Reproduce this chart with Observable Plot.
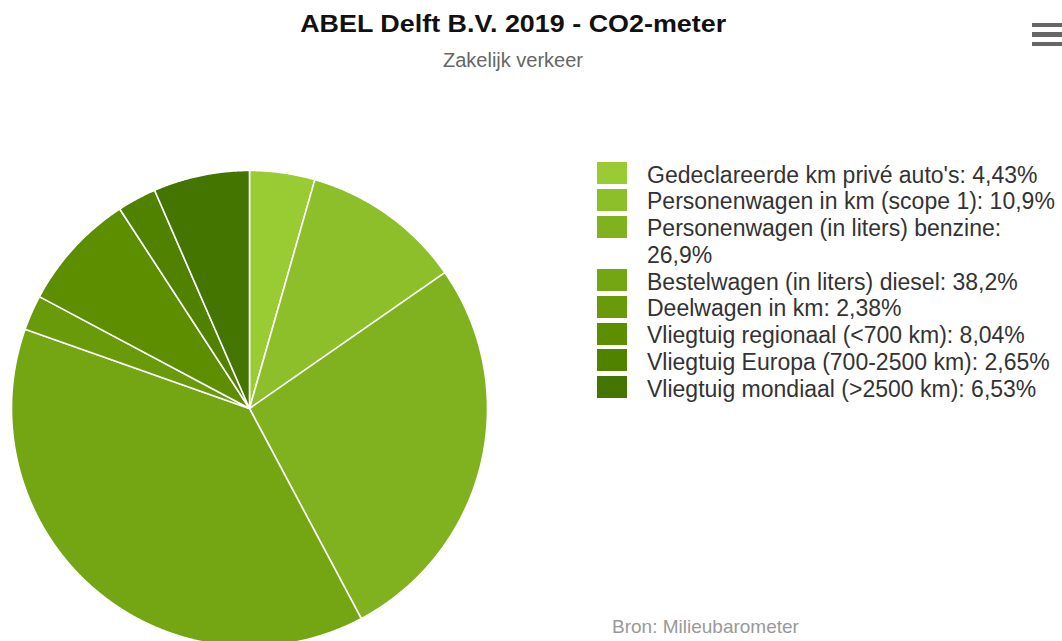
<!DOCTYPE html>
<html>
<head>
<meta charset="utf-8">
<script src="https://cdn.jsdelivr.net/npm/d3@7"></script>
<script src="https://cdn.jsdelivr.net/npm/@observablehq/plot@0.6"></script>
<style>
  html, body { margin: 0; padding: 0; background: #fff; }
  #wrap { position: relative; width: 1062px; height: 641px; overflow: hidden; font-family: "Liberation Sans", Arial, sans-serif; }
  #wrap svg { position: absolute; left: 0; top: 0; }
  .abs { position: absolute; line-height: 1; white-space: nowrap; }
  #title { left: 0; width: 1026px; text-align: center; top: 12.5px; font-size: 23px; font-weight: bold; color: #111; }
  #title span { display: inline-block; transform-origin: 50% 50%; }
  #subtitle { left: 0; width: 1026px; text-align: center; top: 50px; font-size: 20px; color: #666; }
  #caption { left: 612px; top: 617px; font-size: 19px; color: #999; }
  #legend { position: absolute; left: 597px; top: 161.7px; }
  .item { display: flex; align-items: flex-start; }
  .sw { width: 30px; height: 22px; margin-top: 0.5px; margin-right: 20px; flex: none; }
  .lt { font-size: 23px; line-height: 26.75px; color: #333; width: 414px; }
  #menu { position: absolute; left: 1032px; top: 22.5px; width: 30px; }
  #menu div { height: 4.5px; background: #666; margin-bottom: 5px; }
</style>
</head>
<body>
<div id="wrap">
  <div id="title" class="abs"><span></span></div>
  <div id="subtitle" class="abs"></div>
  <div id="legend"></div>
  <div id="caption" class="abs"></div>
  <div id="menu"><div></div><div></div><div></div></div>
</div>
<script>
const titleText = "ABEL Delft B.V. 2019 - CO2-meter";
const subtitleText = "Zakelijk verkeer";
const captionText = "Bron: Milieubarometer";

const categories = [
  "Gedeclareerde km privé auto's",
  "Personenwagen in km (scope 1)",
  "Personenwagen (in liters) benzine",
  "Bestelwagen (in liters) diesel",
  "Deelwagen in km",
  "Vliegtuig regionaal (<700 km)",
  "Vliegtuig Europa (700-2500 km)",
  "Vliegtuig mondiaal (>2500 km)"
];
const values = [4.43, 10.9, 26.9, 38.2, 2.38, 8.04, 2.65, 6.53];
const valueLabels = ["4,43%", "10,9%", "26,9%", "38,2%", "2,38%", "8,04%", "2,65%", "6,53%"];
const colors = ["#99cc33", "#8cbf29", "#80b21f", "#74a614", "#689a0a", "#5c8e00", "#508200", "#437500"];

const tspan = document.querySelector("#title span");
tspan.textContent = titleText;
document.getElementById("subtitle").textContent = subtitleText;
document.getElementById("caption").textContent = captionText;

// pie geometry
const arcs = d3.pie().sort(null).startAngle(0).endAngle(2 * Math.PI)(values);
const pts = [];
arcs.forEach((a, i) => {
  const cat = categories[i];
  pts.push({cat, x: 0, y: 0});
  const n = Math.max(2, Math.ceil((a.endAngle - a.startAngle) / 0.005));
  for (let k = 0; k <= n; k++) {
    const t = a.startAngle + (a.endAngle - a.startAngle) * k / n;
    pts.push({cat, x: Math.sin(t), y: Math.cos(t)});
  }
});

const chart = Plot.plot({
  width: 1062,
  height: 641,
  margin: 0,
  x: {domain: [-1, 1], range: [11, 487], axis: null},
  y: {domain: [-1, 1], range: [646, 170], axis: null},
  color: {domain: categories, range: colors},
  marks: [
    Plot.line(pts, {x: "x", y: "y", z: "cat", fill: "cat", stroke: "white", strokeWidth: 1.6, curve: "linear-closed", strokeLinejoin: "round"})
  ]
});
document.getElementById("wrap").insertBefore(chart, document.getElementById("title"));

const legend = document.getElementById("legend");
categories.forEach((c, i) => {
  const item = document.createElement("div");
  item.className = "item";
  const sw = document.createElement("div");
  sw.className = "sw";
  sw.style.background = colors[i];
  const lt = document.createElement("div");
  lt.className = "lt";
  lt.textContent = c + ": " + valueLabels[i];
  item.appendChild(sw);
  item.appendChild(lt);
  legend.appendChild(item);
});

// the reference title is drawn wider than the font's natural width
const tw = tspan.getBoundingClientRect().width;
if (tw > 0) tspan.style.transform = "scaleX(" + (426 / tw) + ")";
</script>
</body>
</html>
